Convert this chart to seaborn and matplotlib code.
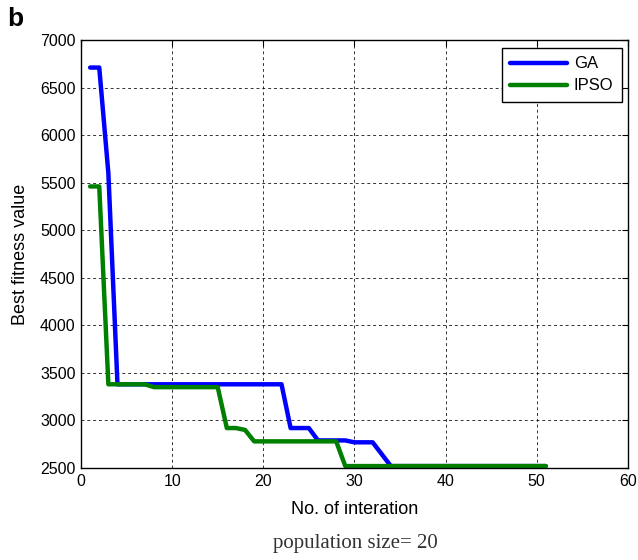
import matplotlib
matplotlib.use("Agg")
import matplotlib.pyplot as plt
import seaborn as sns
import pandas as pd

# Best fitness value per iteration for each optimiser
iterations = list(range(1, 52))
ga_fitness = [6710, 6710, 5600, 3380, 3380, 3380, 3380, 3380, 3380, 3380,
              3380, 3380, 3380, 3380, 3380, 3380, 3380, 3380, 3380, 3380,
              3380, 3380, 2920, 2920, 2920, 2790, 2790, 2790, 2790, 2770,
              2770, 2770, 2645, 2520, 2520, 2520, 2520, 2520, 2520, 2520,
              2520, 2520, 2520, 2520, 2520, 2520, 2520, 2520, 2520, 2520,
              2520]
ipso_fitness = [5460, 5460, 3380, 3380, 3380, 3380, 3380, 3350, 3350, 3350,
                3350, 3350, 3350, 3350, 3350, 2920, 2920, 2900, 2780, 2780,
                2780, 2780, 2780, 2780, 2780, 2780, 2780, 2780, 2520, 2520,
                2520, 2520, 2520, 2520, 2520, 2520, 2520, 2520, 2520, 2520,
                2520, 2520, 2520, 2520, 2520, 2520, 2520, 2520, 2520, 2520,
                2520]
series_names = ["GA", "IPSO"]
series_colors = ["#0000ff", "#008000"]
x_ticks = [0, 10, 20, 30, 40, 50, 60]
y_ticks = [2500, 3000, 3500, 4000, 4500, 5000, 5500, 6000, 6500, 7000]

df = pd.DataFrame({
    "iteration": iterations * 2,
    "fitness": ga_fitness + ipso_fitness,
    "method": [series_names[0]] * len(iterations) + [series_names[1]] * len(iterations),
})

sns.set_style("white")
plt.rcParams["font.family"] = ["Liberation Sans", "DejaVu Sans"]
plt.rcParams["text.color"] = "black"
plt.rcParams["axes.labelcolor"] = "black"
plt.rcParams["xtick.color"] = "black"
plt.rcParams["ytick.color"] = "black"

fig = plt.figure(figsize=(6.38, 5.6), dpi=100)
ax = fig.add_axes([0.127, 0.1643, 0.857, 0.7643])

sns.lineplot(data=df, x="iteration", y="fitness", hue="method",
             palette=dict(zip(series_names, series_colors)),
             linewidth=3.2, ax=ax, legend=True)

ax.set_xlim(0, 60)
ax.set_ylim(2500, 7000)
ax.set_xticks(x_ticks)
ax.set_yticks(y_ticks)
ax.tick_params(direction="in", length=4, width=0.8, labelsize=11.5,
               top=True, right=True, colors="black", pad=4)
for side in ax.spines.values():
    side.set_color("black")
    side.set_linewidth(1.0)
ax.grid(True, color="black", linestyle=(0, (3, 3)), linewidth=0.7, alpha=0.8)

ax.set_xlabel("No. of interation", fontsize=13, labelpad=9)
ax.set_ylabel("Best fitness value", fontsize=13, labelpad=8)

leg = ax.legend(loc="upper right", fontsize=12, frameon=True, fancybox=False,
                edgecolor="black", framealpha=1, handlelength=3.4,
                handletextpad=0.4, borderpad=0.5, labelspacing=0.42,
                borderaxespad=0, bbox_to_anchor=(0.989, 0.981))
leg.get_frame().set_linewidth(1.0)
for line in leg.get_lines():
    line.set_linewidth(3.2)

fig.text(0.012, 0.987, "b", fontsize=19, fontweight="bold", va="top", ha="left")
fig.text(0.557, 0.012, "population size= 20", fontsize=15,
         family=["Liberation Serif", "DejaVu Serif"], color="#333333",
         ha="center", va="bottom")

fig.savefig("out.png", dpi=100)
